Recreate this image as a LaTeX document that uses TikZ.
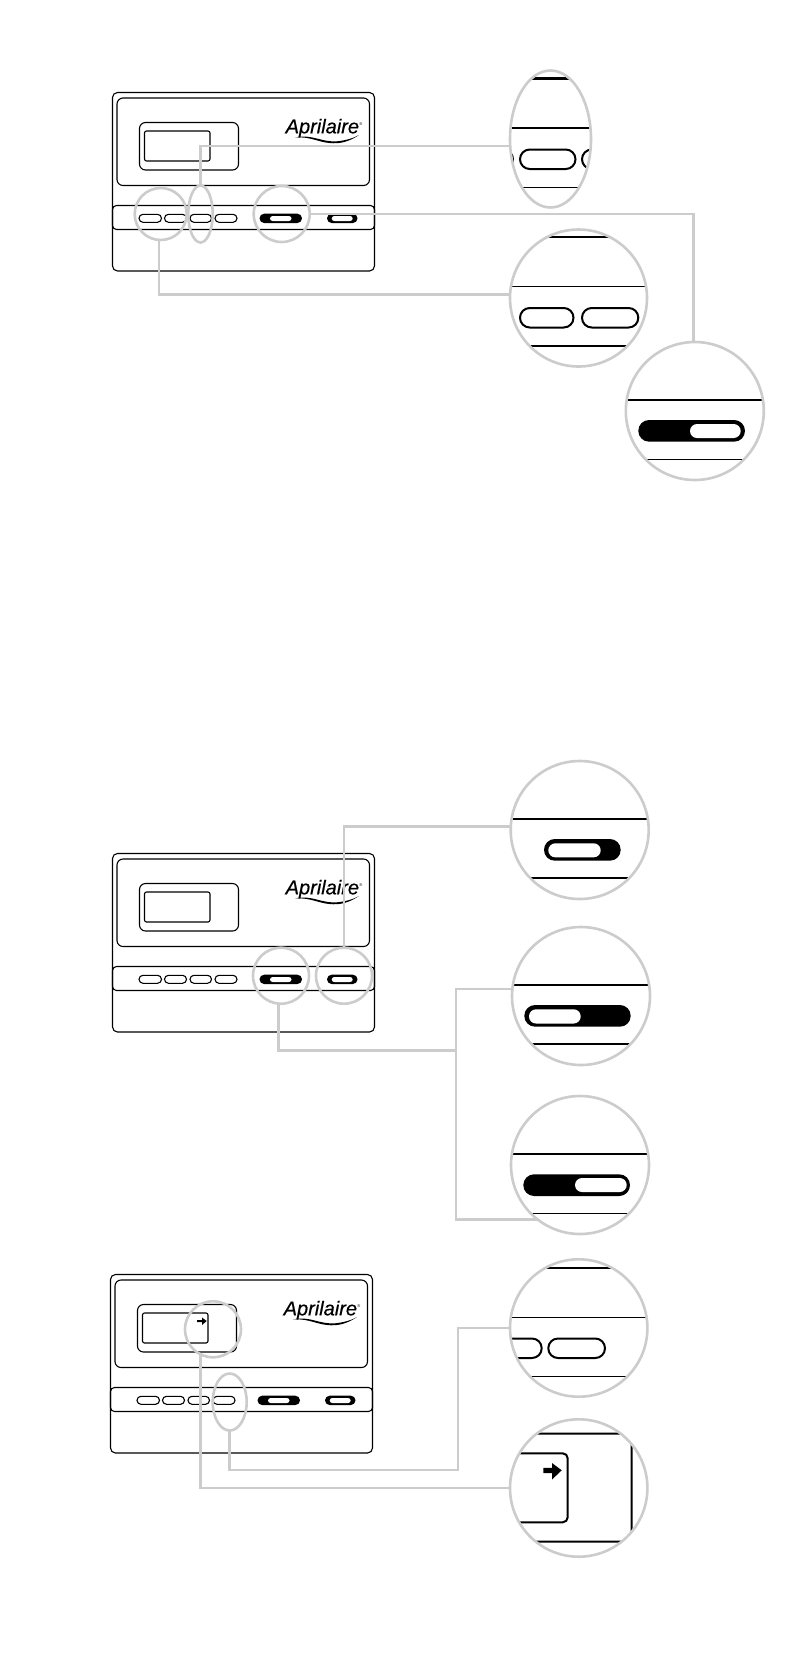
\documentclass[tikz,border=0pt]{standalone}
\usepackage{fontspec}
\usetikzlibrary{shapes.geometric}
\newfontfamily\logofont{Liberation Sans}[ItalicFeatures={FakeBold=0.5}]

\definecolor{lenscolor}{RGB}{204,204,204}

\tikzset{
	lens/.style={draw=lenscolor, line width=2.6pt, inner sep=0pt, outer sep=0pt},
	lensround/.style={lens, circle, minimum size=#1},
	lensoval/.style n args={2}{lens, ellipse, minimum width=#1, minimum height=#2},
	link/.style={draw=lenscolor, line width=2.6pt, line join=miter, line cap=butt},
	thin line/.style={draw=black, line width=1.1pt},
	big line/.style={draw=black, line width=2pt}
}

\begin{document}
\begin{tikzpicture}[line cap=round, line join=round, x=1pt, y=-1pt]

	\useasboundingbox (0,0) rectangle (810,1674);
	\fill[white] (0,0) rectangle (810,1674);

	% Los tres termostatos
	\foreach \dx/\dy/\devname in {0/0/devA, 0/761/devB, -2/1182/devC} {
		\begin{scope}[shift={(\dx,\dy)}]
			\draw[thin line] (112.5,92.5) [rounded corners=5pt] rectangle (374.5,271);
			\draw[thin line] (117,98) [rounded corners=6pt] rectangle (369.5,185.5);
			\draw[thin line] (139.5,122.5) [rounded corners=6pt] rectangle (238.5,170);
			\draw[thin line] (144.5,131) [rounded corners=2pt] rectangle (210,161);
			\draw[thin line] (112.5,205.5) [rounded corners=4pt] rectangle (374.5,229.5);
			% Teclas blancas
			\foreach \xa/\xb in {139/161.5, 164.5/186.5, 190/211.5, 215/237}
				\draw[thin line, rounded corners=4pt] (\xa,214.3) rectangle (\xb,222.3);
			% Selectores negros
			\fill[black, rounded corners=4.6pt] (259.5,213.7) rectangle (302,223);
			\fill[white, rounded corners=2.6pt] (270,216) rectangle (291.5,221);
			\fill[black, rounded corners=4.6pt] (327,213.7) rectangle (357.5,223);
			\fill[white, rounded corners=2.6pt] (331.7,216) rectangle (352.7,221);
			% Logotipo
			\node[anchor=base west, inner sep=0pt, font=\logofont\itshape\fontsize{20}{20}\selectfont] (logo\devname) at (285.5,133.3) {Aprilaire};
			\node[anchor=west, inner sep=0pt, font=\logofont\fontsize{4}{4}\selectfont] (mark\devname) at (logo\devname.east |- 0,124) {®};
			\fill[black] (295,137.5) .. controls (312,133.5) and (322,143) .. (338,141.2) .. controls (346,140.3) and (354,138) .. (359,135) .. controls (352,139.8) and (344,143) .. (336,143.2) .. controls (320,144) and (312,136) .. (295,137.5) -- cycle;
		\end{scope}
	}

	% Aros sobre los termostatos
	\node[lensround=52pt] (ringA) at (160.7,214) {};
	\node[lensoval={24.5pt}{57pt}] (ovalA) at (200.5,214) {};
	\node[lensround=56pt] (ringB) at (281.7,214) {};
	\node[lensround=56pt] (ringC) at (281,975.7) {};
	\node[lensround=56pt] (ringD) at (344,975.7) {};
	\node[lensround=56pt] (ringE) at (213,1329.3) {};
	\node[lensoval={34pt}{57pt}] (ovalB) at (229.7,1402) {};

	% Detalle: tecla (ovalada)
	\begin{scope}
		\clip (550.5,139) ellipse (40.5 and 68.5);
		\draw[big line, line width=2.6pt] (500,78.3) -- (600,78.3);
		\draw[thin line] (500,128) -- (600,128);
		\draw[thin line] (500,187.7) -- (600,187.7);
		\draw[big line, rounded corners=9.7pt] (520,149.5) rectangle (575.5,169);
		\draw[big line, rounded corners=9.7pt] (455,149.5) rectangle (513,169);
		\draw[big line, rounded corners=9.7pt] (582,149.5) rectangle (640,169);
	\end{scope}
	\node[lensoval={81pt}{137pt}] (zoomA) at (550.5,139) {};

	% Detalle: dos teclas
	\begin{scope}
		\clip (578.5,298) circle (68.5);
		\draw[big line] (500,237) -- (660,237);
		\draw[thin line] (500,286.7) -- (660,286.7);
		\draw[thin line] (500,346) -- (660,346);
		\draw[big line, rounded corners=9.7pt] (520,308) rectangle (573.5,327.5);
		\draw[big line, rounded corners=9.7pt] (582,308) rectangle (638.3,327.5);
	\end{scope}
	\node[lensround=137pt] (zoomB) at (578.5,298) {};

	% Detalle: selector a la izquierda
	\begin{scope}
		\clip (694.8,411) circle (69);
		\draw[thin line] (620,400) -- (770,400);
		\draw[thin line] (620,459.3) -- (770,459.3);
		\fill[black, rounded corners=10.8pt] (638.3,420) rectangle (745,441.7);
		\fill[white, rounded corners=7pt] (690,424) rectangle (740.7,438);
	\end{scope}
	\node[lensround=138pt] (zoomC) at (694.8,411) {};

	% Detalle: selector corto
	\begin{scope}
		\clip (579.7,830) circle (69);
		\draw[thin line] (505,819) -- (655,819);
		\draw[thin line] (505,878) -- (655,878);
		\fill[black, rounded corners=10.8pt] (544,839) rectangle (620.7,860.7);
		\fill[white, rounded corners=7pt] (548.3,843.3) rectangle (600.7,857.3);
	\end{scope}
	\node[lensround=138pt] (zoomD) at (579.7,830) {};

	% Detalle: selector largo, dos posiciones
	\begin{scope}
		\clip (581,996) circle (69);
		\draw[thin line] (505,985) -- (655,985);
		\draw[thin line] (505,1044) -- (655,1044);
		\fill[black, rounded corners=10.8pt] (524.3,1005) rectangle (630.7,1026.7);
		\fill[white, rounded corners=7pt] (529,1009.3) rectangle (580.7,1023.5);
	\end{scope}
	\node[lensround=138pt] (zoomE) at (581,996) {};

	\begin{scope}
		\clip (580,1165) circle (69);
		\draw[thin line] (505,1154) -- (655,1154);
		\draw[thin line] (505,1213.3) -- (655,1213.3);
		\fill[black, rounded corners=10.8pt] (523.3,1174.3) rectangle (630,1196);
		\fill[white, rounded corners=7pt] (575,1178) rectangle (626.7,1192);
	\end{scope}
	\node[lensround=138pt] (zoomF) at (580,1165) {};

	% Detalle: ultima tecla
	\begin{scope}
		\clip (578.7,1328) circle (68.7);
		\draw[big line] (500,1267.7) -- (660,1267.7);
		\draw[thin line] (500,1317.7) -- (660,1317.7);
		\draw[thin line, line width=1.5pt] (500,1376.7) -- (660,1376.7);
		\draw[big line, rounded corners=9.7pt] (480,1338.5) rectangle (541.7,1358);
		\draw[big line, rounded corners=9.7pt] (548.3,1338.5) rectangle (605,1358);
	\end{scope}
	\node[lensround=137.4pt] (zoomG) at (578.7,1328) {};

	% Detalle: pantalla con flecha
	\begin{scope}
		\clip (578.7,1488) circle (68.7);
		\draw[big line, rounded corners=10pt] (480,1433.7) rectangle (631.7,1541.7);
		\draw[big line, rounded corners=5pt] (480,1453.3) rectangle (567.7,1522.3);
		\fill[black] (543.3,1467.8) -- (552,1467.8) -- (552,1463) -- (561.7,1470.3) -- (552,1479.5) -- (552,1473) -- (543.3,1473) -- cycle;
	\end{scope}
	\node[lensround=137.4pt] (zoomH) at (578.7,1488) {};

	% Flecha pequena de la pantalla
	\fill[black] (197,1320.2) -- (202,1320.2) -- (202,1317.5) -- (206.7,1321) -- (202,1325) -- (202,1322) -- (197,1322) -- cycle;

	% Conexiones
	\draw[link] (ovalA.north) |- (zoomA.190);
	\draw[link] (ringB.east) -- (zoomC.91 |- ringB.east) -- (zoomC.91);
	\draw[link] (ringA.266) |- (zoomB.177);
	\draw[link] (ringD.north) |- (zoomD.177);
	\draw[link] (ringC.265) |- (456,1050.7) coordinate (fork);
	\draw[link] (zoomE.174) -| (fork) |- (zoomF.232);
	\draw[link] (ovalB.south) |- (458,1470) |- (zoomG.west);
	\draw[link] (ringE.243) |- (zoomH.west);

\end{tikzpicture}
\end{document}
